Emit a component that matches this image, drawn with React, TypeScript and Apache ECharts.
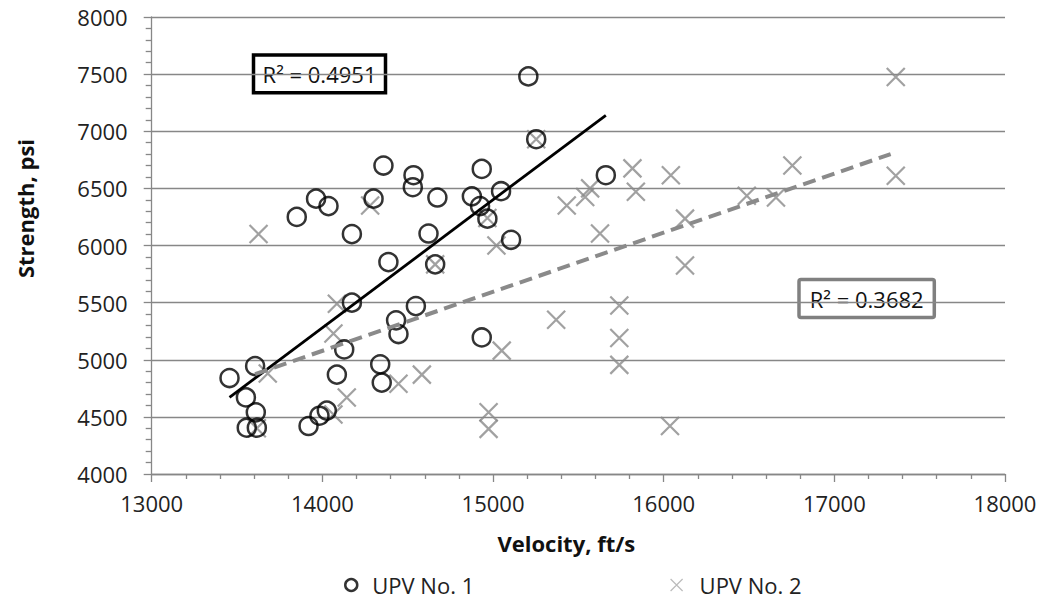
import React, { useEffect, useRef } from "react";
import * as echarts from "echarts";

// UPV No. 1 (circles): [velocity ft/s, strength psi]
const upv1: number[][] = [
  [13456, 4840], [13606, 4945], [13552, 4670], [13610, 4540], [13557, 4405],
  [13616, 4405], [13919, 4420], [13983, 4510], [14026, 4555], [14085, 4870],
  [14128, 5090], [14173, 5500], [14387, 5855], [14339, 4960], [14348, 4800],
  [14432, 5345], [14446, 5225], [14173, 6100], [13850, 6250], [13963, 6410],
  [14036, 6345], [14358, 6700], [14300, 6410], [14534, 6615], [14530, 6510],
  [14674, 6420], [14934, 6670], [14876, 6430], [14924, 6345], [14967, 6235],
  [15047, 6475], [14622, 6105], [15106, 6050], [15207, 7480], [15253, 6930],
  [15661, 6615], [14661, 5835], [14548, 5470], [14934, 5195],
];

// UPV No. 2 (crosses)
const upv2: number[][] = [
  [13626, 6100], [13680, 4880], [13616, 4400], [14085, 5490], [14065, 5230],
  [14143, 4670], [14065, 4520], [14446, 4790], [14280, 6350], [14967, 6240],
  [15020, 6000], [15253, 6930], [14661, 5835], [15051, 5080], [14583, 4870],
  [14974, 4540], [14974, 4395], [15370, 5350], [15740, 5475], [15740, 5190],
  [15740, 4955], [16125, 5825], [16037, 4420], [15432, 6350], [15540, 6425],
  [15569, 6500], [15817, 6675], [15837, 6470], [16042, 6615], [15627, 6105],
  [16125, 6235], [17360, 7475], [17360, 6610], [16754, 6700], [16487, 6435],
  [16658, 6420],
];

// Linear trendline endpoints
const trend1: number[][] = [[13456, 4670], [15661, 7140]];
const trend2: number[][] = [[13606, 4874], [17330, 6800]];

const r2Labels = ["R\u00B2 = 0.4951", "R\u00B2 = 0.3682"];
const seriesNames = ["UPV No. 1", "UPV No. 2"];

const FONT = "'Open Sans', 'DejaVu Sans', sans-serif";
const GRID = "#878787";
const CROSS = "#8a8a8a";
const crossPath = "path://M0,0L10,10M10,0L0,10";
const plain = (v: number) => String(v);

export default function App() {
  const ref = useRef<HTMLDivElement>(null);
  useEffect(() => {
    if (!ref.current) return;
    const chart = echarts.init(ref.current, null, { renderer: "svg" });
    chart.setOption({
      animation: false,
      backgroundColor: "#ffffff",
      textStyle: { fontFamily: FONT },
      grid: { left: 151.7, right: 37, top: 17, bottom: 135, containLabel: false },
      xAxis: {
        type: "value",
        min: 13000,
        max: 18000,
        interval: 1000,
        name: "Velocity, ft/s",
        nameLocation: "middle",
        nameGap: 58,
        nameTextStyle: { fontFamily: FONT, fontSize: 22, fontWeight: "bold", color: "#111", padding: [0, 24, 0, 0] },
        axisLine: { show: true, lineStyle: { color: GRID, width: 1.3 } },
        axisTick: { show: true, length: 8, lineStyle: { color: GRID, width: 1.3 } },
        minorTick: { show: true, splitNumber: 5, length: 5, lineStyle: { color: GRID, width: 1.3 } },
        splitLine: { show: false },
        axisLabel: { fontFamily: FONT, fontSize: 22, color: "#222", margin: 18, formatter: plain },
      },
      yAxis: {
        type: "value",
        min: 4000,
        max: 8000,
        interval: 500,
        name: "Strength, psi",
        nameLocation: "middle",
        nameGap: 116,
        nameTextStyle: { fontFamily: FONT, fontSize: 22, fontWeight: "bold", color: "#111", padding: [0, 0, 0, 74] },
        axisLine: { show: true, lineStyle: { color: GRID, width: 1.3 } },
        axisTick: { show: true, length: 8, lineStyle: { color: GRID, width: 1.3 } },
        minorTick: { show: true, splitNumber: 5, length: 6, lineStyle: { color: GRID, width: 1.3 } },
        splitLine: { show: true, lineStyle: { color: GRID, width: 1.3 } },
        axisLabel: { fontFamily: FONT, fontSize: 22, color: "#222", margin: 24, formatter: plain },
      },
      legend: [
        {
          data: [{ name: seriesNames[0], icon: "circle", itemStyle: { color: "rgba(0,0,0,0)", borderColor: "#000", borderWidth: 2.5 } }],
          left: 339,
          top: 569,
          itemWidth: 12,
          itemHeight: 12,
          textStyle: { fontFamily: FONT, fontSize: 22, color: "#222", padding: [0, 0, 0, 10] },
        },
        {
          data: [{ name: seriesNames[1], icon: crossPath, itemStyle: { color: "rgba(0,0,0,0)", borderColor: "#aaa", borderWidth: 1.2 } }],
          left: 665,
          top: 569,
          itemWidth: 12,
          itemHeight: 12,
          textStyle: { fontFamily: FONT, fontSize: 22, color: "#222", padding: [0, 0, 0, 12] },
        },
      ],
      series: [
        {
          name: seriesNames[1],
          type: "scatter",
          data: upv2,
          symbol: crossPath,
          symbolSize: 18,
          itemStyle: { color: "rgba(0,0,0,0)", borderColor: CROSS, borderWidth: 2.2 },
          z: 2,
        },
        {
          name: seriesNames[0],
          type: "scatter",
          data: upv1,
          symbol: "circle",
          symbolSize: 18,
          itemStyle: { color: "rgba(0,0,0,0)", borderColor: "#000", borderWidth: 2.5 },
          z: 3,
        },
        {
          name: "trend1",
          type: "line",
          data: trend1,
          symbol: "none",
          lineStyle: { color: "#000", width: 2.8, type: "solid" },
          z: 4,
        },
        {
          name: "trend2",
          type: "line",
          data: trend2,
          symbol: "none",
          lineStyle: { color: CROSS, width: 4, type: [13, 7] },
          z: 4,
        },
      ],
      graphic: [
        {
          type: "group",
          z: 10,
          children: [
            { type: "rect", shape: { x: 253.5, y: 55, width: 132, height: 37.7 }, style: { fill: "#fff", stroke: "#000", lineWidth: 3.5 } },
            { type: "text", x: 319.5, y: 74, style: { text: r2Labels[0], fontFamily: FONT, fontSize: 22, fill: "#111", align: "center", verticalAlign: "middle" } },
            { type: "rect", shape: { x: 799, y: 279.5, width: 135.3, height: 38, r: 2 }, style: { fill: "#fff", stroke: "#808080", lineWidth: 3.5 } },
            { type: "text", x: 866.7, y: 299, style: { text: r2Labels[1], fontFamily: FONT, fontSize: 22, fill: "#111", align: "center", verticalAlign: "middle" } },
          ],
        },
      ],
    });
    return () => chart.dispose();
  }, []);
  return <div ref={ref} style={{ position: "fixed", left: 0, top: 0, width: 1042, height: 609 }} />;
}
